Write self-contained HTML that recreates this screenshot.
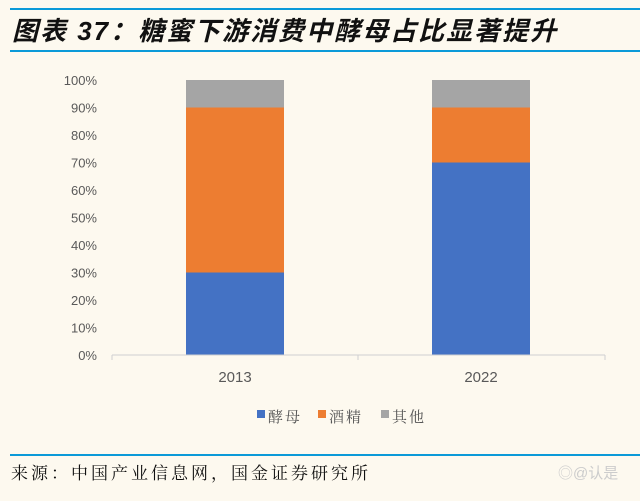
<!DOCTYPE html>
<html><head><meta charset="utf-8"><style>
body{margin:0;background:#fdf9ef;width:640px;height:496px;overflow:hidden;font-family:"Liberation Sans","Noto Sans CJK SC",sans-serif}
</style></head><body>
<svg width="640" height="496">
<rect width="640" height="496" fill="#fdf9ef"/>
<line x1="10" y1="9" x2="640" y2="9" stroke="#0b9ad8" stroke-width="2"/>
<text x="12" y="40" font-size="26" font-style="italic" font-weight="bold" letter-spacing="2" fill="#111" font-family="'Liberation Sans','Noto Sans CJK SC',sans-serif">图表 37：糖蜜下游消费中酵母占比显著提升</text>
<line x1="10" y1="51" x2="640" y2="51" stroke="#0b9ad8" stroke-width="2"/>
<g id="yaxis"></g>
<g id="bars"></g>
<line x1="112" y1="355" x2="605" y2="355" stroke="#d0d0d0" stroke-width="1"/>
<line x1="112" y1="355" x2="112" y2="360" stroke="#d0d0d0"/>
<line x1="358" y1="355" x2="358" y2="360" stroke="#d0d0d0"/>
<line x1="605" y1="355" x2="605" y2="360" stroke="#d0d0d0"/>
<g id="xlabels"></g>
<g font-size="15" fill="#555" letter-spacing="2" font-family="'Liberation Serif','Noto Serif CJK SC',serif">
<g><rect x="257" y="410" width="8" height="8" fill="#4472c4"/><text x="268" y="422">酵母</text></g>
<g><rect x="318" y="410" width="8" height="8" fill="#ed7d31"/><text x="329" y="422">酒精</text></g>
<g><rect x="381" y="410" width="8" height="8" fill="#a5a5a5"/><text x="392" y="422">其他</text></g>
</g>
<line x1="10" y1="455" x2="640" y2="455" stroke="#0b9ad8" stroke-width="2"/>
<text x="11" y="479" font-size="17" letter-spacing="3" fill="#111" font-family="'Liberation Serif','Noto Serif CJK SC',serif">来源：中国产业信息网，国金证券研究所</text>
<text x="558" y="478" font-size="15" fill="#ccc">◎@认是</text>
</svg>
<script>
const categories=["2013","2022"];
const yeast=[30,70];
const alcohol=[60,20];
const other=[10,10];
const yTicks=[0,10,20,30,40,50,60,70,80,90,100];
const NS="http://www.w3.org/2000/svg";
const y0=355,y1=80;
function ys(v){return y0-(y0-y1)*v/100;}
const cx=[235,481];
function xs(i){return cx[i];}
const bw=98;
const ya=document.getElementById('yaxis');
yTicks.forEach(t=>{const e=document.createElementNS(NS,'text');


e.setAttribute('x',97);e.setAttribute('y',ys(t)+5);e.setAttribute('text-anchor','end');e.setAttribute('font-size','13');e.setAttribute('fill','#595959');e.textContent=t+'%';ya.appendChild(e);});
const bg=document.getElementById('bars');
const series=[[yeast,'#4472c4','yeast'],[alcohol,'#ed7d31','alcohol'],[other,'#a5a5a5','other']];
categories.forEach((c,i)=>{let base=0;series.forEach(s=>{const v=s[0][i];const r=document.createElementNS(NS,'rect');


r.setAttribute('x',xs(i)-bw/2);r.setAttribute('y',ys(base+v));r.setAttribute('width',bw);r.setAttribute('height',ys(base)-ys(base+v));r.setAttribute('fill',s[1]);bg.appendChild(r);base+=v;});
const t=document.createElementNS(NS,'text');


t.setAttribute('x',xs(i));t.setAttribute('y',382);t.setAttribute('text-anchor','middle');t.setAttribute('font-size','15');t.setAttribute('fill','#595959');t.textContent=c;document.getElementById('xlabels').appendChild(t);});
</script>
</body></html>
